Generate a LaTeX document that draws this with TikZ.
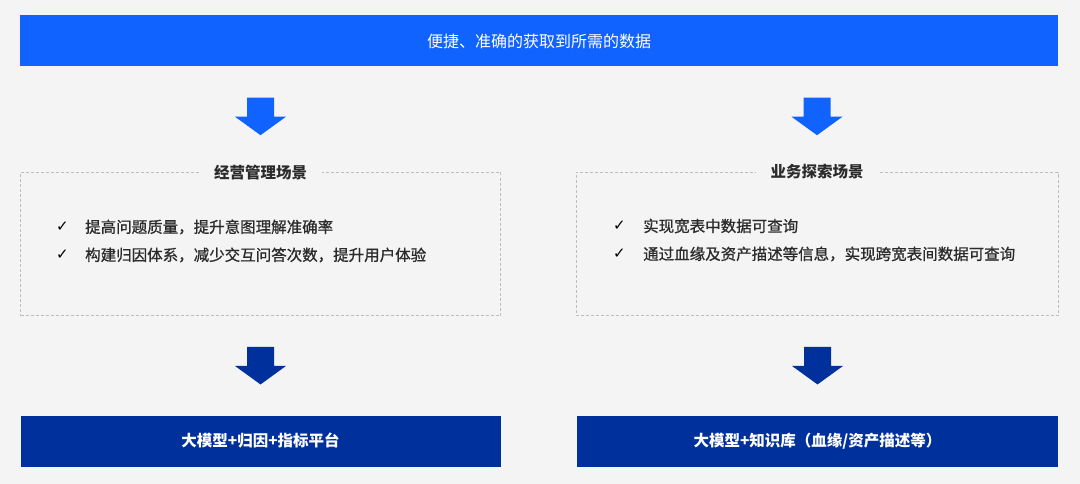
\documentclass[tikz,border=0pt]{standalone}
\usepackage{fontspec}
\newfontfamily\cjk{Noto Sans CJK SC}
\newfontfamily\cjkmid{Noto Sans CJK SC}[FakeBold=0.9]
\newfontfamily\symb{DejaVu Sans}
\usetikzlibrary{positioning,calc}
\definecolor{brightblue}{HTML}{1063FF}
\definecolor{deepblue}{HTML}{00309C}
\definecolor{pagebg}{HTML}{F4F4F4}
\definecolor{dashgray}{HTML}{BDBDBD}
\definecolor{ink}{HTML}{2B2B2B}
\tikzset{
  bar/.style={fill=#1, draw=none, minimum height=51pt, text=white, font=\cjk\fontsize{16}{16}\selectfont},
  scenebox/.style={draw=dashgray, dash pattern=on 3pt off 2pt, line width=0.9pt, minimum width=480pt, minimum height=143pt},
  scenetitle/.style={fill=pagebg, inner xsep=15pt, text=ink, font=\cjk\bfseries\fontsize{15.5}{15.5}\selectfont},
  item/.style={anchor=west, inner sep=0pt, text=ink, font=\cjkmid\fontsize{15.5}{15.5}\selectfont},
  tick/.style={anchor=west, inner sep=0pt, text=black, font=\symb\fontsize{15}{15}\selectfont}
}
\begin{document}
\begin{tikzpicture}[x=1pt, y=-1pt]
  \fill[pagebg] (0,0) rectangle (1080,484);
  \useasboundingbox (0,0) rectangle (1080,484);
  % top goal
  \node[bar=brightblue, minimum width=1038pt] (goal) at (539,41) {便捷、准确的获取到所需的数据};
  % scene boxes
  \node[scenebox] (mgmt) at (260.5,244) {};
  \node[scenebox, minimum width=482pt] (explore) at (817,244) {};
  \node[scenetitle] (mgmtTitle) at (mgmt.north) {经营管理场景};
  \node[scenetitle] (exploreTitle) at (explore.north) {业务探索场景};
  \node[tick] (mgmtTickA) at (56,227) {✓};
  \node[item] (mgmtA) at (85,227) {提高问题质量，提升意图理解准确率};
  \node[tick] (mgmtTickB) at (56,255) {✓};
  \node[item] (mgmtB) at (85,255) {构建归因体系，减少交互问答次数，提升用户体验};
  \node[tick] (exploreTickA) at (613,226) {✓};
  \node[item] (exploreA) at (643,226) {实现宽表中数据可查询};
  \node[tick] (exploreTickB) at (613,254) {✓};
  \node[item] (exploreB) at (643,254) {通过血缘及资产描述等信息，实现跨宽表间数据可查询};
  % bottom platforms
  \node[bar=deepblue, minimum width=480pt, font=\cjk\bfseries\fontsize{15.5}{15.5}\selectfont] (llmMetric) at (260.5,441) {大模型+归因+指标平台};
  \node[bar=deepblue, minimum width=481pt, font=\cjk\bfseries\fontsize{15.5}{15.5}\selectfont] (llmKnow) at (817.5,441) {大模型+知识库（血缘/资产描述等）};
  % block arrows
  \foreach \from/\to/\c in {goal/mgmt/brightblue, goal/explore/brightblue, mgmt/llmMetric/deepblue, explore/llmKnow/deepblue}
    \fill[\c, shift={($(\from.south -| \to.north)$)}]
      (-13.5,31) -- (13.5,31) -- (13.5,50) -- (25.5,50) -- (0,68.5) -- (-25.5,50) -- (-13.5,50) -- cycle;
\end{tikzpicture}
\end{document}
